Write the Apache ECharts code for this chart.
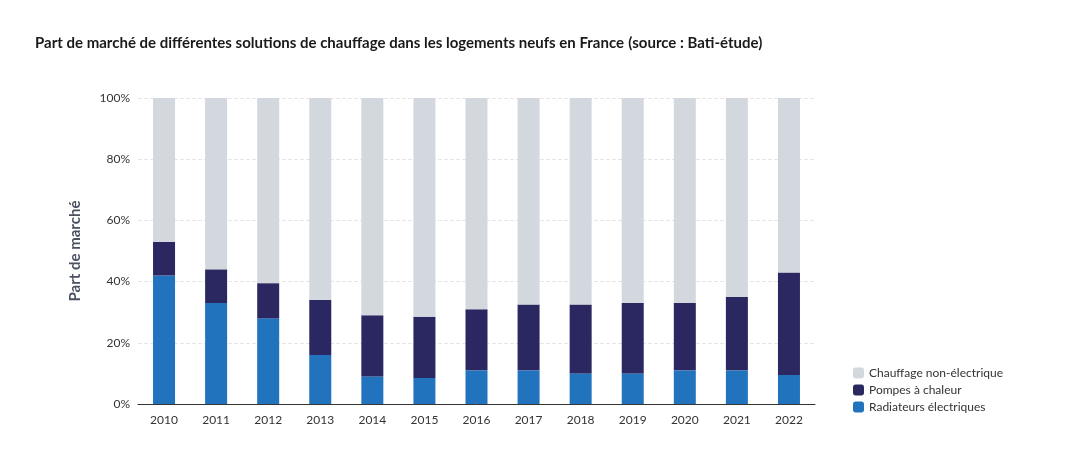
<!DOCTYPE html>
<html>
<head>
<meta charset="utf-8">
<script src="https://cdn.jsdelivr.net/npm/echarts@6/dist/echarts.min.js"></script>
<style>
  html, body { margin: 0; padding: 0; background: #fff; }
  #chart { width: 1090px; height: 467px; }
</style>
</head>
<body>
<div id="chart"></div>
<script>
// données (en %)
var annees = ["2010", "2011", "2012", "2013", "2014", "2015", "2016", "2017", "2018", "2019", "2020", "2021", "2022"];
var radiateurs = [42, 33, 28, 16, 9, 8.5, 11, 11, 10, 10, 11, 11, 9.5];
var pompes = [11, 11, 11.5, 18, 20, 20, 20, 21.5, 22.5, 23, 22, 24, 33.5];
var nonElectrique = [47, 56, 60.5, 66, 71, 71.5, 69, 67.5, 67.5, 67, 67, 65, 57];

var myChart = echarts.init(document.getElementById('chart'));
var font = 'Lato, "Noto Sans", sans-serif';

var serie = function (name, data, color) {
    return { name: name, type: 'bar', stack: 'total', barWidth: 22, data: data, itemStyle: { color: color } };
};

myChart.setOption({
    animation: false,
    textStyle: { fontFamily: font },
    title: {
        left: 30, top: 29,
        text: '{b|Part de marché de différentes solutions de chauffage dans les logements neufs en France} {n|(source : Bati-étude)}',
        textStyle: {
            rich: {
                b: { fontSize: 15, fontWeight: 'bold', color: '#1a1a1a', fontFamily: font },
                n: { fontSize: 15, color: '#1a1a1a', fontFamily: font }
            }
        }
    },
    legend: {
        orient: 'vertical', left: 848, top: 362, itemWidth: 11, itemHeight: 11, itemGap: 5,
        textStyle: { fontSize: 12, color: '#333' },
        data: ['Chauffage non-électrique', 'Pompes à chaleur', 'Radiateurs électriques']
    },
    grid: { left: 138, right: 275, top: 98, bottom: 63 },
    xAxis: {
        type: 'category', data: annees,
        axisLine: { lineStyle: { color: '#333' } },
        axisTick: { show: false },
        axisLabel: { fontSize: 12, color: '#333', margin: 10 }
    },
    yAxis: {
        type: 'value', min: 0, max: 100, interval: 20,
        name: 'Part de marché', nameLocation: 'middle', nameGap: 55,
        nameTextStyle: { fontSize: 15, fontWeight: 'bold', color: '#4a5160' },
        axisLabel: { formatter: '{value}%', fontSize: 12, color: '#333' },
        splitLine: { lineStyle: { color: '#e6e6e6', type: 'dashed' } }
    },
    series: [
        serie('Radiateurs électriques', radiateurs, '#2173bd'),
        serie('Pompes à chaleur', pompes, '#2b2760'),
        serie('Chauffage non-électrique', nonElectrique, '#d3d7de')
    ]
});
</script>
</body>
</html>
